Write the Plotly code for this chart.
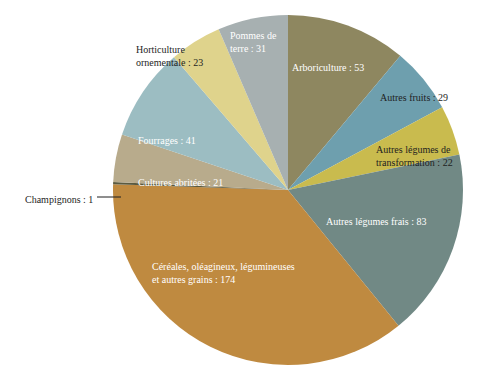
import plotly.graph_objects as go

categories = [
    "Arboriculture",
    "Autres fruits",
    "Autres légumes de transformation",
    "Autres légumes frais",
    "Céréales, oléagineux, légumineuses et autres grains",
    "Champignons",
    "Cultures abritées",
    "Fourrages",
    "Horticulture ornementale",
    "Pommes de terre",
]
values = [53, 29, 22, 83, 174, 1, 21, 41, 23, 31]
label_texts = [
    "Arboriculture : 53",
    "Autres fruits : 29",
    "Autres légumes de<br>transformation : 22",
    "Autres légumes frais : 83",
    "Céréales, oléagineux, légumineuses<br>et autres grains : 174",
    "Champignons : 1",
    "Cultures abritées : 21",
    "Fourrages : 41",
    "Horticulture<br>ornementale : 23",
    "Pommes de<br>terre : 31",
]
colors = ["#8e8760", "#6e9fae", "#c9bb4e", "#718985", "#bf8a40",
          "#5a5a40", "#b8ab8c", "#9cbdc2", "#dfd38c", "#a7b0b1"]

W, H = 494, 367
OFF = 8  # page body margin offset
cx, cy, r = 288 - OFF, 190 - OFF, 175

fig = go.Figure(go.Pie(
    labels=categories,
    values=values,
    sort=False,
    direction="clockwise",
    rotation=0,
    textinfo="none",
    hoverinfo="label+value",
    marker=dict(colors=colors, line=dict(width=0)),
    domain=dict(x=[(cx - r) / W, (cx + r) / W], y=[1 - (cy + r) / H, 1 - (cy - r) / H]),
    showlegend=False,
))

# label placement (pixel positions on the page, alignment, colour)
label_style = [
    (328, 68, "center", "white"),
    (414, 97, "center", "#1e1e1e"),
    (374, 156, "left", "#1e1e1e"),
    (376, 221, "center", "white"),
    (150, 273, "left", "white"),
    (95, 199, "right", "#1e1e1e"),
    (180, 182, "center", "white"),
    (167, 140, "center", "white"),
    (134, 56, "left", "#1e1e1e"),
    (228, 42, "left", "white"),
]

annotations = []
for txt, (px, py, al, col) in zip(label_texts, label_style):
    annotations.append(dict(
        x=(px - OFF) / W, y=1 - (py - OFF) / H, xref="paper", yref="paper",
        text=txt, showarrow=False, align=al,
        xanchor={"center": "center", "left": "left", "right": "right"}[al],
        yanchor="middle",
        font=dict(family="Liberation Serif", size=10, color=col),
    ))

shapes = [dict(type="line", xref="paper", yref="paper",
               x0=(97 - OFF) / W, x1=(cx - r + 8) / W,
               y0=1 - (197 - OFF) / H, y1=1 - (197 - OFF) / H,
               line=dict(color="#1e1e1e", width=1))]

fig.update_layout(
    width=W, height=H,
    margin=dict(l=0, r=0, t=0, b=0),
    paper_bgcolor="white",
    plot_bgcolor="white",
    annotations=annotations,
    shapes=shapes,
)

fig.write_html("out.html")
